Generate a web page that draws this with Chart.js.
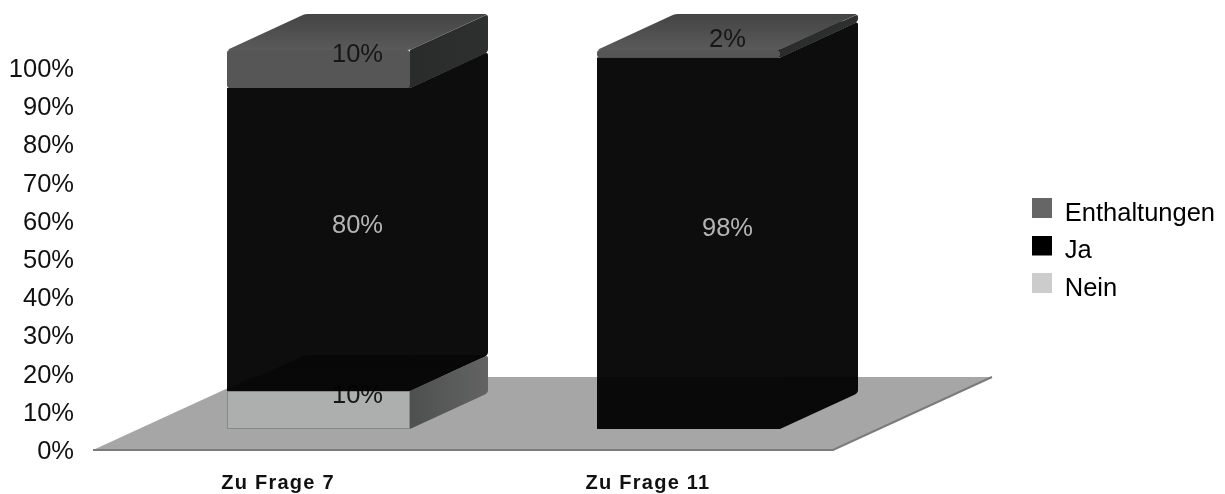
<!DOCTYPE html>
<html lang="de">
<head>
<meta charset="utf-8">
<title>Abstimmung</title>
<script src="https://cdn.jsdelivr.net/npm/chart.js@4"></script>
<style>
  html, body { margin: 0; padding: 0; background: #fff; }
  #wrap { position: relative; width: 1225px; height: 494px; }
</style>
</head>
<body>
<div id="wrap"><canvas id="chart"></canvas></div>
<script>
// Stimmenanteile je Frage, in Prozent
const categories = ['Zu Frage 7', 'Zu Frage 11'];
const nein = [10, 0];
const ja = [80, 98];
const enthaltungen = [10, 2];
const yTicks = [0, 10, 20, 30, 40, 50, 60, 70, 80, 90, 100];

const FONT = '"Liberation Sans", Arial, sans-serif';
const BAR_SHIFT = { x: 40.5, y: -23 };   // Balken stehen mitten auf der Bodenplatte
const BAR_DEPTH = { x: 78, y: -36 };
const FLOOR_RAISE = 2;
const FLOOR_DEPTH = { x: 159, y: -73 };
const LABEL_DROP = 4;

const faces = {
  Nein: {
    swatch: '#cccccc', label: '#161616',
    top: ['#8e8e8e', '#9a9a9a'], side: ['#4e504f', '#636363'], edge: '#86888a'
  },
  Ja: {
    swatch: '#000000', label: '#b4b4b4',
    top: ['rgba(0,0,0,.95)', 'rgba(0,0,0,.95)'], side: ['rgba(0,0,0,.95)', 'rgba(0,0,0,.95)'], edge: 'rgba(0,0,0,0)'
  },
  Enthaltungen: {
    swatch: '#666666', label: '#161616',
    top: ['#444444', '#5a5a5a'], side: ['#2a2c2c', '#2e3030'], edge: '#565656'
  }
};

// Polygon, dessen Ecken um einen festen Abstand gekappt und geglättet sind
function softPolygon(ctx, pts, cut) {
  const n = pts.length;
  const toward = (a, b) => {
    const len = Math.hypot(b[0] - a[0], b[1] - a[1]);
    const k = Math.min(cut, len / 2) / len;
    return [a[0] + (b[0] - a[0]) * k, a[1] + (b[1] - a[1]) * k];
  };
  ctx.beginPath();
  for (let i = 0; i < n; i++) {
    const p = pts[i];
    const from = toward(p, pts[(i + n - 1) % n]);
    const to = toward(p, pts[(i + 1) % n]);
    if (i === 0) ctx.moveTo(from[0], from[1]); else ctx.lineTo(from[0], from[1]);
    ctx.quadraticCurveTo(p[0], p[1], to[0], to[1]);
  }
  ctx.closePath();
}

function drawFloor(chart) {
  const { ctx, scales: { x, y } } = chart;
  const y0 = y.getPixelForValue(0) - FLOOR_RAISE;
  const l = x.left, r = x.right;
  const fx = FLOOR_DEPTH.x, fy = FLOOR_DEPTH.y;
  ctx.save();
  ctx.beginPath();
  ctx.moveTo(l, y0);
  ctx.lineTo(r, y0);
  ctx.lineTo(r + fx, y0 + fy);
  ctx.lineTo(l + fx, y0 + fy);
  ctx.closePath();
  ctx.fillStyle = '#a6a6a6';
  ctx.fill();
  ctx.strokeStyle = '#7b7b7b';
  ctx.lineWidth = 2;
  ctx.beginPath();
  ctx.moveTo(l, y0);
  ctx.lineTo(r, y0);
  ctx.lineTo(r + fx, y0 + fy);
  ctx.stroke();
  ctx.restore();
}

function drawBox(chart, index) {
  const { ctx } = chart;
  const ds = chart.data.datasets[index];
  const meta = chart.getDatasetMeta(index);
  const f = faces[ds.label];
  const dx = BAR_DEPTH.x, dy = BAR_DEPTH.y;

  meta.data.forEach((bar, i) => {
    if (!ds.data[i]) return;
    const half = bar.width / 2;
    const l = bar.x - half + BAR_SHIFT.x, r = bar.x + half + BAR_SHIFT.x;
    const t = bar.y + BAR_SHIFT.y, b = bar.base + BAR_SHIFT.y;

    // Deckfläche
    const topGrad = ctx.createLinearGradient(0, t + dy, 0, t);
    topGrad.addColorStop(0, f.top[0]);
    topGrad.addColorStop(1, f.top[1]);
    ctx.fillStyle = topGrad;
    softPolygon(ctx, [[l, t], [r, t], [r + dx, t + dy], [l + dx, t + dy]], 3);
    ctx.fill();

    // Seitenfläche
    const sideGrad = ctx.createLinearGradient(r, 0, r + dx, 0);
    sideGrad.addColorStop(0, f.side[0]);
    sideGrad.addColorStop(1, f.side[1]);
    ctx.fillStyle = sideGrad;
    ctx.beginPath();
    ctx.moveTo(r, t);
    ctx.lineTo(r + dx - 3, t + dy + 1.4);
    ctx.quadraticCurveTo(r + dx, t + dy, r + dx, t + dy + 3);
    ctx.lineTo(r + dx, b + dy - 3);
    ctx.quadraticCurveTo(r + dx, b + dy, r + dx - 3, b + dy + 1.4);
    ctx.lineTo(r, b);
    ctx.closePath();
    ctx.fill();

    // Vorderseite zeichnet das Balkenelement selbst
    ctx.save();
    ctx.translate(BAR_SHIFT.x, BAR_SHIFT.y);
    bar.draw(ctx);
    ctx.restore();
  });

  // Beschriftung sitzt in der Mitte des Quaders
  ctx.save();
  ctx.font = '25.5px ' + FONT;
  ctx.fillStyle = f.label;
  ctx.textAlign = 'center';
  ctx.textBaseline = 'middle';
  meta.data.forEach((bar, i) => {
    if (!ds.data[i]) return;
    const cx = bar.x + BAR_SHIFT.x + dx / 2;
    const cy = (bar.y + bar.base) / 2 + BAR_SHIFT.y + dy / 2 + LABEL_DROP;
    ctx.fillText(ds.data[i] + '%', cx, cy);
  });
  ctx.restore();
}

// Legendenfeld, das etwas über der Textmitte sitzt
function swatchImage(color) {
  const c = document.createElement('canvas');
  c.width = 20;
  c.height = 31;
  const g = c.getContext('2d');
  g.fillStyle = color;
  g.fillRect(0, 0, 20, 20);
  return c;
}

const solidBoxes = {
  id: 'solidBoxes',
  afterLayout(chart) {
    // Legende rechts neben der Bodenplatte
    const lg = chart.legend;
    lg.left = 1020; lg.right = 1225;
    lg.top = 188.75; lg.bottom = 320;
  },
  beforeDatasetsDraw(chart) {
    drawFloor(chart);
    chart.data.datasets.forEach((_, i) => drawBox(chart, i));
  },
  beforeDatasetDraw() {
    return false;
  },
  afterDatasetsDraw(chart) {
    chart.ctx.letterSpacing = '1.25px';   // gesperrte Achsenbeschriftung
  },
  afterDraw(chart) {
    chart.ctx.letterSpacing = '0px';
  }
};

new Chart(document.getElementById('chart'), {
  type: 'bar',
  data: {
    labels: categories,
    datasets: [
      { label: 'Nein', data: nein, yAxisID: 'yBars', backgroundColor: '#adafae', borderColor: faces.Nein.edge, borderWidth: 1 },
      { label: 'Ja', data: ja, yAxisID: 'yBars', backgroundColor: 'rgba(0,0,0,.95)', borderWidth: 0 },
      { label: 'Enthaltungen', data: enthaltungen, yAxisID: 'yBars', backgroundColor: '#565656', borderWidth: 0 }
    ]
  },
  plugins: [solidBoxes],
  options: {
    responsive: true,
    maintainAspectRatio: false,
    animation: false,
    layout: { padding: { top: 70, right: 392, bottom: 0, left: 0 } },
    datasets: {
      bar: {
        barThickness: 183,
        inflateAmount: 0,
        borderRadius: 3,
        borderSkipped: false
      }
    },
    scales: {
      x: {
        stacked: true,
        grid: { display: false, drawTicks: false },
        border: { display: false },
        afterFit(scale) { scale.height = 42; },
        ticks: {
          z: 1,
          padding: 19,
          color: '#111111',
          maxRotation: 0,
          font: { family: FONT, size: 20, weight: 'bold' }
        }
      },
      y: {
        min: 0,
        max: 100,
        grid: { display: false, drawTicks: false },
        border: { display: false },
        afterFit(scale) { scale.width = 93; },
        afterBuildTicks(scale) { scale.ticks = yTicks.map(value => ({ value })); },
        ticks: {
          padding: 19,
          color: '#111111',
          font: { family: FONT, size: 25.5 },
          callback: v => v + '%'
        }
      },
      // Die Säulen stehen perspektivisch etwas gestaucht vor der Achse
      yBars: {
        display: false,
        stacked: true,
        min: 0,
        max: 100.8
      }
    },
    plugins: {
      tooltip: { enabled: false },
      legend: {
        position: 'chartArea',
        align: 'start',
        labels: {
          usePointStyle: true,
          boxWidth: 20,
          boxHeight: 20,
          padding: 12,
          color: '#111111',
          font: { family: FONT, size: 25.5 },
          generateLabels(chart) {
            return chart.data.datasets.map((ds, i) => ({
              text: ds.label,
              pointStyle: swatchImage(faces[ds.label].swatch),
              fillStyle: faces[ds.label].swatch,
              strokeStyle: faces[ds.label].swatch,
              lineWidth: 0,
              datasetIndex: i,
              hidden: false
            })).reverse();
          }
        }
      }
    }
  }
});
</script>
</body>
</html>
